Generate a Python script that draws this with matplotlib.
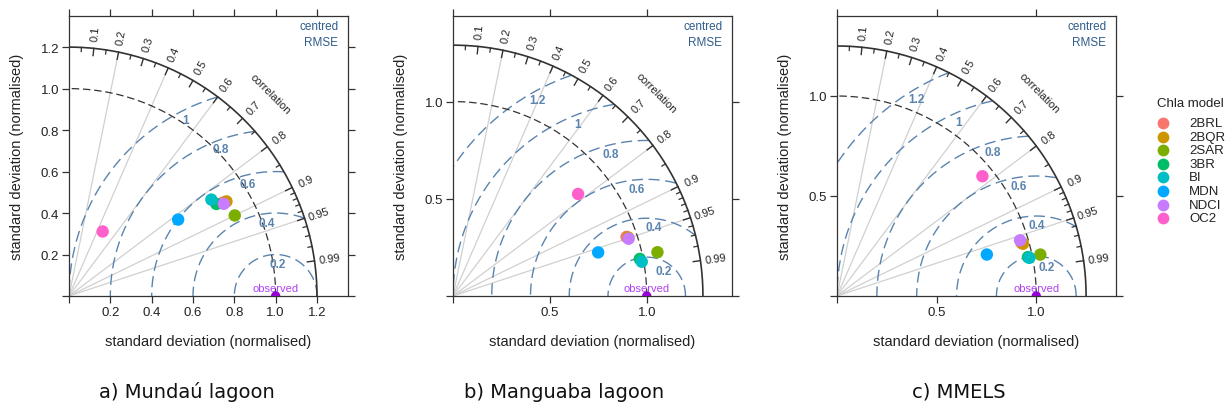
import numpy as np
import matplotlib
matplotlib.use('Agg')
from matplotlib import pyplot as plt
from matplotlib.lines import Line2D

models = ['2BRL', '2BQR', '2SAR', '3BR', 'BI', 'MDN', 'NDCI', 'OC2']
model_colors = ['#F8766D', '#CD9600', '#7CAE00', '#00BE67',
                '#00BFC4', '#00A9FF', '#C77CFF', '#FF61CC']

# normalised standard deviation and correlation of each Chla model
mundau_sd = [0.870, 0.888, 0.891, 0.840, 0.831, 0.644, 0.871, 0.351]
mundau_corr = [0.856, 0.858, 0.900, 0.849, 0.829, 0.820, 0.860, 0.464]

manguaba_sd = [0.946, 0.953, 1.079, 0.983, 0.990, 0.782, 0.953, 0.832]
manguaba_corr = [0.947, 0.949, 0.978, 0.981, 0.984, 0.958, 0.951, 0.776]

mmels_sd = [0.963, 0.969, 1.041, 0.978, 0.984, 0.780, 0.960, 0.944]
mmels_corr = [0.961, 0.963, 0.980, 0.980, 0.981, 0.964, 0.957, 0.773]

panel_titles = ['a) Mundaú lagoon', 'b) Manguaba lagoon', 'c) MMELS']
sd_max = [1.2, 1.29, 1.25]
axis_ticks = [[0, 0.2, 0.4, 0.6, 0.8, 1.0, 1.2], [0, 0.5, 1.0], [0, 0.5, 1.0]]
rmse_levels = [[0.2, 0.4, 0.6, 0.8, 1.0], [0.2, 0.4, 0.6, 0.8, 1.0, 1.2],
               [0.2, 0.4, 0.6, 0.8, 1.0, 1.2]]

corr_labels = [0.1, 0.2, 0.3, 0.4, 0.5, 0.6, 0.7, 0.8, 0.9, 0.95, 0.99]
corr_minor = [0.05, 0.15, 0.25, 0.35, 0.45, 0.55, 0.65, 0.75, 0.85,
              0.91, 0.92, 0.93, 0.94, 0.96, 0.97, 0.98]
corr_lines = [0.2, 0.4, 0.6, 0.8, 0.9, 0.95]

FONT = 'Liberation Sans'
RMS_COL = '#5A84AE'
TXT_COL = '#222222'
W, H = 1230, 410


def taylor(ax, sd, corr, smax, ticks, levels):
    lim = smax + 0.15
    theta = np.linspace(0, np.pi / 2, 300)

    # correlation rays
    for c in corr_lines:
        a = np.arccos(c)
        ax.plot([0, smax * np.cos(a)], [0, smax * np.sin(a)],
                color='#D0D0D0', lw=0.9, zorder=1)

    # centred RMSE arcs around the observed point
    phi = np.linspace(0, np.pi, 600)
    R = 0.85 * smax
    for r in levels:
        x = 1 + r * np.cos(phi)
        y = r * np.sin(phi)
        keep = (np.hypot(x, y) <= smax) & (x >= 0)
        x = np.where(keep, x, np.nan)
        y = np.where(keep, y, np.nan)
        ax.plot(x, y, color=RMS_COL, lw=1.0, dashes=(8, 4), zorder=2)
        rl = r - 0.045
        lx = (R ** 2 - rl ** 2 + 1) / 2
        ly = np.sqrt(max(R ** 2 - lx ** 2, 0))
        ax.text(lx, ly, '%g' % r, color=RMS_COL, fontsize=8.5, fontweight='bold',
                ha='center', va='center', family=FONT, zorder=3)

    # sd = 1 arc and outer arc
    ax.plot(np.cos(theta), np.sin(theta), color='#333333', lw=0.9,
            dashes=(6, 3), zorder=2)
    ax.plot(smax * np.cos(theta), smax * np.sin(theta), color='#333333',
            lw=1.2, zorder=3)

    k = smax / 1.2
    for c in corr_labels:
        a = np.arccos(c)
        ax.plot([smax * np.cos(a), (smax - 0.035 * k) * np.cos(a)],
                [smax * np.sin(a), (smax - 0.035 * k) * np.sin(a)],
                color='#333333', lw=1.0, zorder=3)
        rr = smax * 1.062
        ax.text(rr * np.cos(a), rr * np.sin(a), '%g' % c, rotation=np.degrees(a),
                rotation_mode='anchor', ha='center', va='center',
                fontsize=8, color=TXT_COL, family=FONT)
    for c in corr_minor:
        a = np.arccos(c)
        ax.plot([smax * np.cos(a), (smax - 0.02 * k) * np.cos(a)],
                [smax * np.sin(a), (smax - 0.02 * k) * np.sin(a)],
                color='#333333', lw=0.9, zorder=3)
    rr = smax * 1.15
    ax.text(rr * np.cos(np.pi / 4), rr * np.sin(np.pi / 4), 'correlation',
            rotation=-45, rotation_mode='anchor', ha='center', va='center',
            fontsize=8, color=TXT_COL, family=FONT)

    # models
    sd = np.array(sd)
    corr = np.array(corr)
    xs = sd * corr
    ys = sd * np.sqrt(1 - corr ** 2)
    for i in range(len(models)):
        ax.scatter(xs[i], ys[i], s=80, color=model_colors[i],
                   edgecolors='none', zorder=5)

    # observed reference
    ax.scatter(1, 0, s=45, color='#9400D3', edgecolors='none', zorder=6)
    ax.text(1, 0.04, 'observed', color='#B040F0', fontsize=8,
            ha='center', va='center', family=FONT, zorder=6)

    ax.text(0.965, 0.965, 'centred', color='#2F5C8A', fontsize=8.5,
            ha='right', va='center', transform=ax.transAxes, family=FONT)
    ax.text(0.965, 0.906, 'RMSE', color='#2F5C8A', fontsize=8.5,
            ha='right', va='center', transform=ax.transAxes, family=FONT)

    ax.set_xlim(0, lim)
    ax.set_ylim(0, lim)
    ax.set_xticks(ticks)
    ax.set_yticks(ticks)
    labels = ['' if t == 0 else '%.1f' % t for t in ticks]
    ax.set_xticklabels(labels, family=FONT, fontsize=9.5, color=TXT_COL)
    ax.set_yticklabels(labels, family=FONT, fontsize=9.5, color=TXT_COL)
    ax.tick_params(direction='out', length=5, width=0.9, color='#333333',
                   top=True, right=True, pad=2)
    for sp in ax.spines.values():
        sp.set_color('#333333')
        sp.set_linewidth(0.9)
    ax.set_xlabel('standard deviation (normalised)', family=FONT,
                  fontsize=10.5, color=TXT_COL, va='center')
    ax.set_ylabel('standard deviation (normalised)', family=FONT,
                  fontsize=10.5, color=TXT_COL, va='center')
    ax.xaxis.set_label_coords(0.5, -0.16)
    ax.yaxis.set_label_coords(-0.185, 0.5)


fig = plt.figure(figsize=(W / 100, H / 100), dpi=100)
lefts = [69, 453, 837]
data = [(mundau_sd, mundau_corr), (manguaba_sd, manguaba_corr), (mmels_sd, mmels_corr)]
title_x = [187, 564, 959]

for i in range(3):
    ax = fig.add_axes([lefts[i] / W, (H - 297) / H, 279 / W, 280 / H])
    taylor(ax, data[i][0], data[i][1], sd_max[i], axis_ticks[i], rmse_levels[i])
    fig.text(title_x[i] / W, (H - 398) / H, panel_titles[i],
             family='DejaVu Sans', fontsize=14, color='#111111',
             ha='center', va='baseline')

# key for the models
fig.text(1157 / W, 1 - 104 / H, 'Chla model', family=FONT, fontsize=9.5,
         color=TXT_COL, ha='left', va='center')
for i in range(len(models)):
    yk = 1 - (124 + 13.6 * i) / H
    fig.add_artist(Line2D([1163 / W], [yk], marker='o', ls='none', markersize=8.5,
                          markerfacecolor=model_colors[i], markeredgecolor='none',
                          transform=fig.transFigure))
    fig.text(1189 / W, yk, models[i], family=FONT, fontsize=9.5,
             color=TXT_COL, ha='left', va='center')

plt.savefig('out.png', dpi=100)
